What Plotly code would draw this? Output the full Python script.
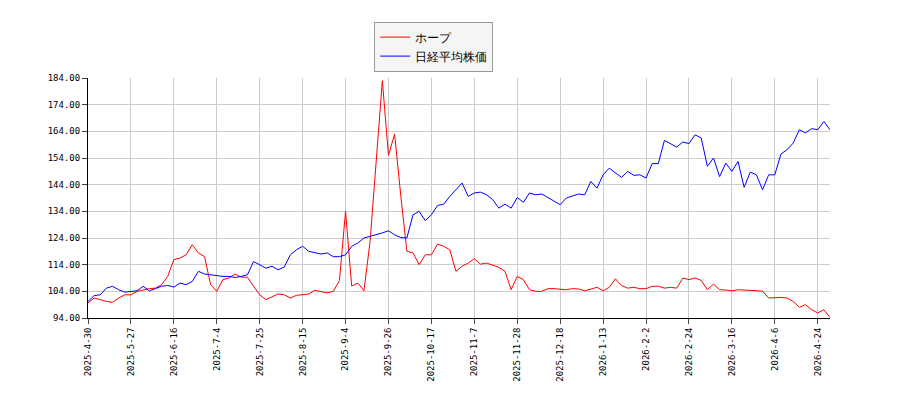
import plotly.graph_objects as go

# tick labels (one every 14 trading days)
tick_labels = ["2025-4-30", "2025-5-27", "2025-6-16", "2025-7-4", "2025-7-25", "2025-8-15",
               "2025-9-4", "2025-9-26", "2025-10-17", "2025-11-7", "2025-11-28", "2025-12-18",
               "2026-1-13", "2026-2-2", "2026-2-24", "2026-3-16", "2026-4-6", "2026-4-24"]

# values sampled every 2 trading days
hope = [99.6, 101.5, 100.9, 100.2, 99.9, 101.5, 102.7, 102.7, 104, 104.6,
        105, 105.2, 106.5, 109.6, 115.9, 116.5, 117.7, 121.5, 118.4, 117,
        106.5, 104, 108.4, 109, 110.5, 109.3, 109.3, 105.9, 102.7, 100.9,
        102.1, 103, 102.7, 101.5, 102.5, 102.7, 103, 104.4, 104, 103.4,
        104, 108, 134, 106, 107.1, 104.2, 122.7, 152.7, 183, 155,
        163, 140, 119, 118.4, 114, 117.7, 117.7, 121.7, 120.9, 119.6,
        111.5, 113.4, 114.6, 116.2, 114.2, 114.6, 113.7, 113, 111.5, 104.6,
        109.6, 108.4, 104.6, 104, 104, 105, 105, 104.9, 104.6, 105,
        104.9, 104.2, 105, 105.5, 104.2, 105.5, 108.7, 106.2, 105.2, 105.5,
        105, 105, 105.9, 105.9, 105.2, 105.5, 105.2, 109, 108.4, 109,
        108.1, 104.6, 106.7, 104.6, 104.5, 104.2, 104.6, 104.5, 104.4, 104.2,
        104.1, 101.5, 101.7, 101.7, 101.5, 100.2, 98, 99, 97.1, 95.9,
        97.1, 94.2]
nikkei = [100.2, 102.4, 102.7, 105.2, 105.9, 104.6, 103.7, 104, 104.2, 105.9,
          104.2, 105, 105.9, 106.2, 105.6, 107.1, 106.5, 107.7, 111.5, 110.5,
          110.2, 110, 109.6, 109.6, 109.2, 109.6, 110.2, 115.2, 114, 112.7,
          113.4, 112.1, 113.1, 117.7, 119.6, 120.9, 119, 118.4, 118, 118.4,
          117, 117, 117.7, 120.9, 122.1, 124, 124.6, 125.2, 125.9, 126.7,
          125.2, 124.2, 124, 132.7, 134, 130.5, 132.7, 136.2, 136.7, 139.6,
          142.1, 144.6, 139.6, 140.9, 141.2, 140.2, 138.4, 135.2, 136.7, 135.2,
          139.2, 137.4, 140.9, 140.2, 140.5, 139.2, 137.7, 136.5, 139, 139.9,
          140.5, 140.2, 145.2, 142.7, 147.7, 150.2, 148.4, 146.7, 149, 147.5,
          147.7, 146.5, 151.9, 151.9, 160.6, 159.4, 158.1, 160, 159.4, 162.7,
          161.5, 150.9, 154, 147, 152.1, 149, 152.7, 143, 148.7, 147.7,
          142.1, 147.7, 147.7, 155.5, 157.1, 159.6, 164.6, 163.4, 165, 164.6,
          167.7, 164.6]

x = [2 * i for i in range(len(hope))]
tick_pos = [14 * i for i in range(len(tick_labels))]
y_ticks = list(range(94, 185, 10))

fig = go.Figure()
fig.add_trace(go.Scatter(x=x, y=hope, mode="lines", name="ホープ",
                         line=dict(color="#ff0000", width=1)))
fig.add_trace(go.Scatter(x=x, y=nikkei, mode="lines", name="日経平均株価",
                         line=dict(color="#0000ff", width=1)))

fig.update_layout(
    width=900, height=400,
    margin=dict(l=80, r=78, t=70, b=90, autoexpand=False),
    plot_bgcolor="white", paper_bgcolor="white",
    font=dict(family="DejaVu Sans", size=11, color="black"),
    legend=dict(x=0.466, y=1.235, xanchor="center", yanchor="top",
                bordercolor="#999999", borderwidth=1, bgcolor="#f5f5f5",
                font=dict(size=12)),
    showlegend=True,
)
fig.update_xaxes(range=[0, 242], tickvals=tick_pos, ticktext=tick_labels,
                 tickangle=-90, showgrid=True, gridcolor="#cccccc", automargin=False,
                 showline=True, linecolor="black", ticks="outside",
                 tickfont=dict(family="DejaVu Sans Mono", size=9), zeroline=False)
fig.update_yaxes(range=[94, 184], tickvals=y_ticks, automargin=False,
                 ticktext=[f"{v:.2f}" for v in y_ticks],
                 showgrid=True, gridcolor="#cccccc",
                 showline=True, linecolor="black", ticks="outside",
                 tickfont=dict(family="DejaVu Sans Mono", size=9), zeroline=False)

fig.write_html("out.html")
